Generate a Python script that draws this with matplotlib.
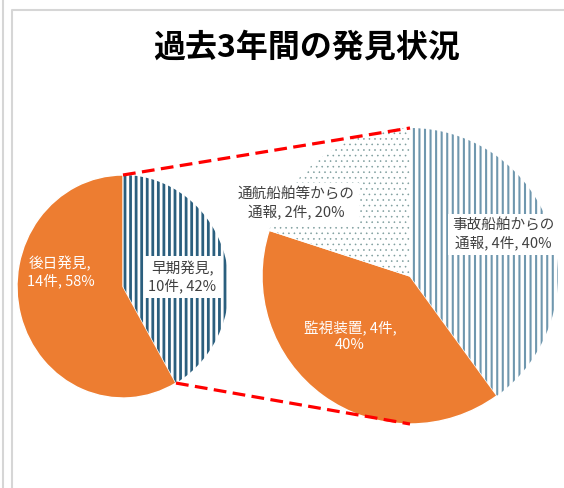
import numpy as np
import matplotlib.pyplot as plt
from matplotlib.patches import Wedge

plt.rcParams['font.family'] = ['Noto Sans CJK JP', 'DejaVu Sans']
plt.rcParams['hatch.linewidth'] = 2.0

title = '過去3年間の発見状況'

# main pie: early vs later discovery
main_names = ['早期発見', '後日発見']
main_counts = [10, 14]
main_fmt = ['{0},\n{1}件, {2}%', '{0},\n{1}件, {2}%']

# second pie: breakdown of early discovery (last 3 years)
sub_names = ['事故船舶からの\n通報', '監視装置', '通航船舶等からの\n通報']
sub_counts = [4, 4, 2]
sub_fmt = ['{0}, {1}件, {2}%', '{0}, {1}件,\n{2}%', '{0}, {1}件, {2}%']

orange = '#ED7D31'
stripe_dark = '#2B5F7E'
stripe_light = '#6F97AE'
dot_col = '#7C9C9C'

W, H = 564, 488
fig = plt.figure(figsize=(W / 100, H / 100), dpi=100)


def px_axes(x0, y0, x1, y1):
    a = fig.add_axes([x0 / W, 1 - y1 / H, (x1 - x0) / W, (y1 - y0) / H])
    return a


bg = fig.add_axes([0, 0, 1, 1])
bg.set_xlim(0, W)
bg.set_ylim(H, 0)
bg.axis('off')
bg.plot([3, 3], [0, H], color='#d6d6d6', lw=1.5)
bg.plot([11.5, 11.5, W], [H, 10, 10], color='#d6d6d6', lw=1.5)


def pct(vals):
    vals = np.asarray(vals, float)
    return np.round(vals / vals.sum() * 100).astype(int)


def overlay(ax, w, hatch, color, hlw):
    p = Wedge(w.center, w.r, w.theta1, w.theta2, facecolor='none',
              edgecolor=color, linewidth=0, hatch=hatch)
    if hasattr(p, 'set_hatch_linewidth'):
        p.set_hatch_linewidth(hlw)
    ax.add_patch(p)


# left pie
axL = px_axes(17, 175, 229, 398)
wl, _ = axL.pie(main_counts, startangle=90, counterclock=False, radius=1,
                colors=['white', orange],
                wedgeprops=dict(edgecolor='white', linewidth=1))
overlay(axL, wl[0], '|||', stripe_dark, 2.0)
axL.set_aspect('auto')
axL.set_xlim(-1, 1)
axL.set_ylim(-1, 1)
axL.axis('off')

fs = 10.5
mp = pct(main_counts)
axL.text(0.56, 0.085, main_fmt[0].format(main_names[0], main_counts[0], mp[0]),
         ha='center', va='center', fontsize=fs, color='#404040',
         bbox=dict(boxstyle='square,pad=0.3', fc='white', ec='none'))
axL.text(-0.59, 0.13, main_fmt[1].format(main_names[1], main_counts[1], mp[1]),
         ha='center', va='center', fontsize=fs, color='white')

# right pie
axR = px_axes(262, 128, 558, 424)
wr, _ = axR.pie(sub_counts, startangle=90, counterclock=False, radius=1,
                colors=['white', orange, 'white'],
                wedgeprops=dict(edgecolor='white', linewidth=1))
overlay(axR, wr[0], '|||', stripe_light, 1.5)
overlay(axR, wr[2], '...', dot_col, 0.4)
axR.set_aspect('auto')
axR.set_xlim(-1, 1)
axR.set_ylim(-1, 1)
axR.axis('off')

sp = pct(sub_counts)
sub_pos = [(0.63, 0.28), (-0.405, -0.41), (-0.77, 0.49)]
for i, (x, y) in enumerate(sub_pos):
    txt = sub_fmt[i].format(sub_names[i], sub_counts[i], sp[i])
    if i == 1:
        axR.text(x, y, txt, ha='center', va='center', fontsize=fs, color='white')
    else:
        axR.text(x, y, txt, ha='center', va='center', fontsize=fs, color='#404040',
                 bbox=dict(boxstyle='square,pad=0.3', fc='white', ec='none'))

# overlay for connector lines and title
top = fig.add_axes([0, 0, 1, 1])
top.set_xlim(0, W)
top.set_ylim(H, 0)
top.axis('off')
top.patch.set_alpha(0)


def to_px(ax, ang):
    a = np.deg2rad(ang)
    d = ax.transData.transform((np.cos(a), np.sin(a)))
    return top.transData.inverted().transform(d)


split = wl[0].theta1
for a_left, a_right in [(wl[0].theta2, 90), (split, -90)]:
    p0 = to_px(axL, a_left)
    p1 = to_px(axR, a_right)
    top.plot([p0[0], p1[0]], [p0[1], p1[1]], color='red', lw=2.3,
             dashes=(4, 2), solid_capstyle='butt')

top.text(307, 48, title, ha='center', va='center', fontsize=23,
         fontweight='bold', color='black')

fig.savefig('out.png', dpi=100)
